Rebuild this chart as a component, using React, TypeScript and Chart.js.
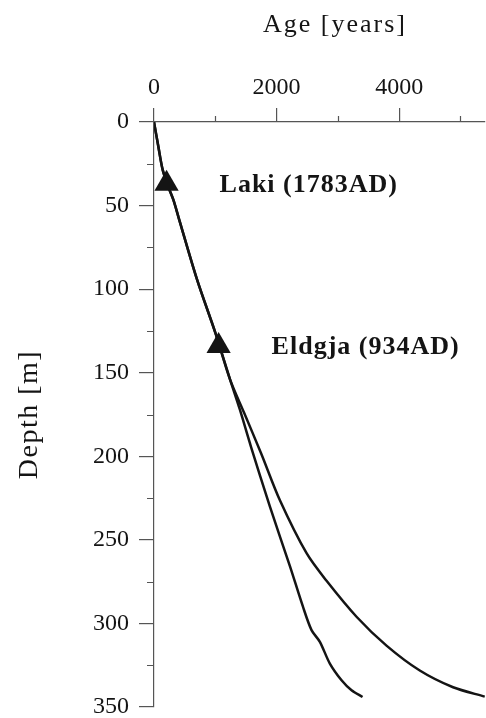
import React, { useEffect, useRef } from "react";
import { Chart, registerables } from "chart.js";

Chart.register(...registerables);

// Age-depth model A (younger ages at depth)
const agesA = [0, 70, 141, 230, 315, 400, 700, 1000, 1240, 1400, 1580, 1890, 2220, 2430, 2570, 2706, 2869, 3060, 3223, 3402];
const depthsA = [0, 14.5, 28.5, 38.5, 46.5, 57, 94, 126, 154, 172, 194, 230, 266, 290, 304, 311, 324, 334, 340, 344];
// Age-depth model B (older ages at depth)
const agesB = [0, 70, 141, 230, 315, 400, 700, 1000, 1240, 1470, 1745, 2054, 2489, 2815, 3304, 3793, 4336, 4879, 5396];
const depthsB = [0, 14.5, 28.5, 38.5, 46.5, 57, 94, 126, 154, 174, 198, 226.3, 258, 274.5, 296, 313.3, 328.2, 338.2, 343.8];

// Volcanic horizons
const markerAges = [205, 1054];
const markerDepths = [37, 134];
const markerLabels = ["Laki (1783AD)", "Eldgja (934AD)"];

// Ticks
const xMajorTicks = [0, 2000, 4000];
const xMinorTicks = [1000, 3000, 5000];
const yMajorTicks = [0, 50, 100, 150, 200, 250, 300, 350];
const yMinorTicks = [25, 75, 125, 175, 225, 275, 325];

const xTitle = "Age [years]";
const yTitle = "Depth [m]";

const FONT = '"Liberation Serif", "Times New Roman", serif';
const AXIS_COLOR = "#555";
const INK = "#141414";

export default function App() {
  const ref = useRef<HTMLCanvasElement | null>(null);

  useEffect(() => {
    if (!ref.current) return;

    const overlay = {
      id: "overlay",
      afterDraw(chart: any) {
        const ctx = chart.ctx as CanvasRenderingContext2D;
        const xs = chart.scales.x;
        const ys = chart.scales.y;
        const area = chart.chartArea;
        ctx.save();
        // minor ticks
        ctx.strokeStyle = AXIS_COLOR;
        ctx.lineWidth = 1.2;
        ctx.beginPath();
        xMinorTicks.forEach((v) => {
          const px = Math.round(xs.getPixelForValue(v)) + 0.5;
          ctx.moveTo(px, area.top);
          ctx.lineTo(px, area.top - 6);
        });
        yMinorTicks.forEach((v) => {
          const py = Math.round(ys.getPixelForValue(v)) + 0.5;
          ctx.moveTo(area.left - 7, py);
          ctx.lineTo(area.left, py);
        });
        ctx.stroke();

        // marker labels
        ctx.fillStyle = INK;
        ctx.font = `bold 26px ${FONT}`;
        (ctx as any).letterSpacing = "1px";
        ctx.textAlign = "left";
        ctx.textBaseline = "alphabetic";
        markerLabels.forEach((t, i) => {
          const px = xs.getPixelForValue(markerAges[i]);
          const py = ys.getPixelForValue(markerDepths[i]);
          ctx.fillText(t, px + 53, py + 8);
        });

        // axis titles
        ctx.font = `26px ${FONT}`;
        (ctx as any).letterSpacing = "2px";
        ctx.textAlign = "center";
        ctx.fillText(xTitle, area.left + 181, 32);

        ctx.save();
        ctx.font = `28px ${FONT}`;
        (ctx as any).letterSpacing = "1.5px";
        ctx.translate(37, (area.top + area.bottom) / 2);
        ctx.rotate(-Math.PI / 2);
        ctx.textAlign = "center";
        ctx.fillText(yTitle, 0, 0);
        ctx.restore();

        (ctx as any).letterSpacing = "0px";
        ctx.restore();
      },
    };

    const chart = new Chart(ref.current, {
      type: "scatter",
      data: {
        datasets: [
          {
            label: "markers",
            data: markerAges.map((a, i) => ({ x: a, y: markerDepths[i] })),
            pointStyle: "triangle",
            pointRadius: 14,
            backgroundColor: INK,
            borderColor: INK,
            borderWidth: 0,
            showLine: false,
          },
          {
            label: "model A",
            data: agesA.map((a, i) => ({ x: a, y: depthsA[i] })),
            showLine: true,
            borderColor: INK,
            borderWidth: 2.5,
            pointRadius: 0,
            tension: 0.3,
          },
          {
            label: "model B",
            data: agesB.map((a, i) => ({ x: a, y: depthsB[i] })),
            showLine: true,
            borderColor: INK,
            borderWidth: 2.5,
            pointRadius: 0,
            tension: 0.3,
          },
        ],
      },
      options: {
        responsive: false,
        animation: false,
        events: [],
        layout: { autoPadding: false, padding: { top: 76, left: 92, right: 1, bottom: 11 } },
        plugins: {
          legend: { display: false },
          tooltip: { enabled: false },
          title: { display: false },
        },
        scales: {
          x: {
            type: "linear",
            position: "top",
            min: 0,
            max: 5400,
            afterBuildTicks: (s: any) => {
              s.ticks = xMajorTicks.map((v) => ({ value: v }));
            },
            afterFit: (s: any) => {
              s.height = 46;
              s.paddingLeft = 0;
              s.paddingRight = 0;
            },
            ticks: {
              padding: 8,
              color: INK,
              font: { family: FONT, size: 24, lineHeight: 1 },
              autoSkip: false,
              maxRotation: 0,
              callback: (v: any) => String(v),
            },
            grid: {
              drawOnChartArea: false,
              drawTicks: true,
              tickLength: 14,
              lineWidth: 1.2,
              color: AXIS_COLOR,
            },
            border: { display: true, color: AXIS_COLOR, width: 1.2 },
          },
          y: {
            type: "linear",
            reverse: true,
            min: 0,
            max: 350,
            afterBuildTicks: (s: any) => {
              s.ticks = yMajorTicks.map((v) => ({ value: v }));
            },
            afterFit: (s: any) => {
              s.width = 62;
              s.paddingTop = 0;
              s.paddingBottom = 0;
            },
            ticks: {
              padding: 10,
              color: INK,
              font: { family: FONT, size: 24, lineHeight: 1 },
              autoSkip: false,
              callback: (v: any) => String(v),
            },
            grid: {
              drawOnChartArea: false,
              drawTicks: true,
              tickLength: 15,
              lineWidth: 1.2,
              color: AXIS_COLOR,
            },
            border: { display: true, color: AXIS_COLOR, width: 1.2 },
          },
        },
      },
      plugins: [overlay],
    });

    return () => chart.destroy();
  }, []);

  return (
    <div style={{ position: "absolute", left: 0, top: 0, width: 486, height: 718, background: "#fff" }}>
      <canvas ref={ref} width={486} height={718} style={{ display: "block" }} />
    </div>
  );
}
